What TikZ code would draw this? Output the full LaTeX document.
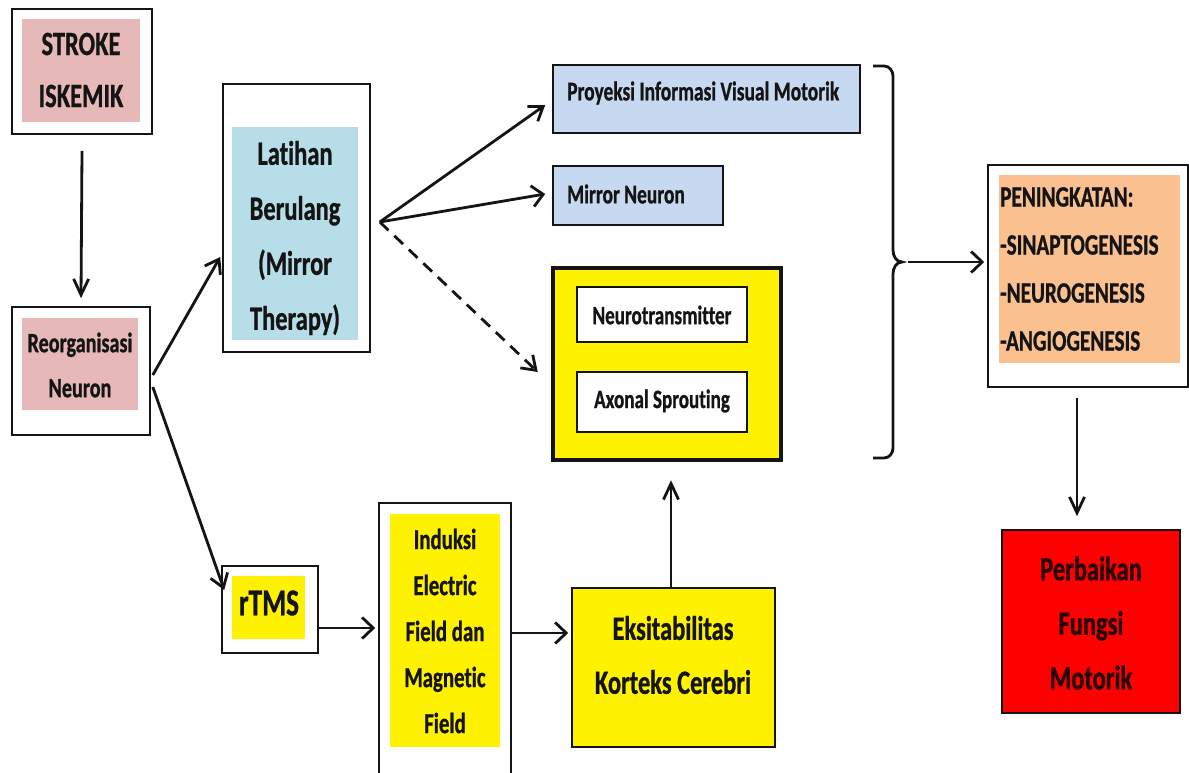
\documentclass[tikz,border=0pt]{standalone}
\usepackage{fontspec}
\setmainfont{Carlito}[FakeStretch=0.72, Ligatures=NoCommon, BoldFeatures={FakeBold=0.8}]
\usetikzlibrary{arrows.meta,fit}

\definecolor{rosefill}{HTML}{E6B9B8}
\definecolor{aquafill}{HTML}{B7DEE8}
\definecolor{bluefill}{HTML}{C6D9F1}
\definecolor{orangefill}{HTML}{FAC090}
\definecolor{alertred}{HTML}{FF0000}
\definecolor{ink}{HTML}{141414}

\tikzset{
  frame/.style={draw=ink, line width=1.6pt, fill=white, inner sep=0pt},
  patch/.style={inner sep=0pt},
  arrV/.style={line width=2.8pt, draw=ink, -{Straight Barb[length=16pt,width=15pt]}},
  arrH/.style={line width=2.8pt, draw=ink, -{Straight Barb[length=11pt,width=21pt]}},
  arrD/.style={line width=2.8pt, draw=ink, -{Straight Barb[length=13pt,width=18pt]}},
}

\begin{document}
\begin{tikzpicture}[x=1pt, y=-1pt]
\useasboundingbox (0,0) rectangle (1189,773);
\fill[white] (0,0) rectangle (1189,773);

% ---- left column
\node[frame, fit={(12,9)(152,134)}] (stroke) {};
\node[patch, fill=rosefill, fit={(22,19)(140,122)}] (strokein) {};
\node[font=\bfseries\fontsize{34}{52}\selectfont, text=ink, align=center, inner sep=0pt] (strokeT) at (81,70) {STROKE\\ISKEMIK};

\node[frame, fit={(12,307)(150,435)}] (reorg) {};
\node[patch, fill=rosefill, fit={(22,318)(138,410)}] (reorgin) {};
\node[font=\bfseries\fontsize{28}{45}\selectfont, text=ink, align=center, inner sep=0pt] (reorgT) at (80,365) {Reorganisasi\\Neuron};

% ---- mirror therapy branch
\node[frame, fit={(223,84)(370,352)}] (latihan) {};
\node[patch, fill=aquafill, fit={(232,127)(358,340)}] (latihanin) {};
\node[font=\bfseries\fontsize{34}{55}\selectfont, text=ink, align=center, inner sep=0pt] (latihanT) at (295,238) {Latihan\\Berulang\\(Mirror\\Therapy)};

\node[frame, fill=bluefill, fit={(553,65)(860,133)}] (proyeksi) {};
\node[font=\bfseries\fontsize{27}{32}\selectfont, text=ink, anchor=west, inner sep=0pt] (proyeksiT) at (567,93) {Proyeksi Informasi Visual Motorik};

\node[frame, fill=bluefill, fit={(553,166)(723,225)}] (mirror) {};
\node[font=\bfseries\fontsize{27}{32}\selectfont, text=ink, anchor=west, inner sep=0pt] (mirrorT) at (567,194) {Mirror Neuron};

\node[draw=ink, line width=4.5pt, fill=yellow, inner sep=0pt, fit={(553,268)(781,460)}] (yb) {};
\node[frame, fit={(577,287)(747,342)}] (neuro) {};
\node[font=\bfseries\fontsize{26.5}{32}\selectfont, text=ink, inner sep=0pt] (neuroT) at (662,315) {Neurotransmitter};
\node[frame, fit={(577,372)(747,432)}] (axon) {};
\node[font=\bfseries\fontsize{26.5}{32}\selectfont, text=ink, inner sep=0pt] (axonT) at (662,401) {Axonal Sprouting};

% ---- rTMS branch
\node[frame, fit={(222,566)(318,653)}] (rtms) {};
\node[patch, fill=yellow, fit={(232,576)(305,639)}] (rtmsin) {};
\node[font=\bfseries\fontsize{38}{45}\selectfont, text=ink, inner sep=0pt] (rtmsT) at (269,603) {rTMS};

\node[frame, fit={(379,503)(511,776)}] (induksi) {};
\node[patch, fill=yellow, fit={(390,514)(500,747)}] (induksiin) {};
\node[font=\bfseries\fontsize{29}{46}\selectfont, text=ink, align=center, inner sep=0pt] (induksiT) at (445,631) {Induksi\\Electric\\Field dan\\Magnetic\\Field};

\node[frame, fill=yellow, fit={(572,588)(775,747)}] (eks) {};
\node[font=\bfseries\fontsize{34}{54}\selectfont, text=ink, align=center, inner sep=0pt] (eksT) at (673,655) {Eksitabilitas\\Korteks Cerebri};

% ---- outcome column
\node[frame, fit={(988,165)(1188,387)}] (pen) {};
\node[patch, fill=orangefill, fit={(999,175)(1180,363)}] (penin) {};
\node[font=\bfseries\fontsize{29.5}{48}\selectfont, text=ink, align=left, anchor=west, inner sep=0pt] (penT) at (1000,269) {PENINGKATAN:\\-SINAPTOGENESIS\\-NEUROGENESIS\\-ANGIOGENESIS};

\node[draw=ink, line width=1.6pt, fill=alertred, inner sep=0pt, fit={(1002,530)(1180,713)}] (perb) {};
\node[font=\bfseries\fontsize{34}{54.5}\selectfont, text=black!85!red, align=center, inner sep=0pt] (perbT) at (1091,623) {Perbaikan\\Fungsi\\Motorik};

% ---- brace gathering the three mechanisms
\draw[draw=ink, line width=2.8pt] (873,66) -- (884,66) to[out=0,in=90] (893,76) -- (893,250)
  to[out=-90,in=180] (902,262) to[out=180,in=90] (893,274) -- (893,448)
  to[out=-90,in=0] (884,458) -- (873,458);
\coordinate (bt) at (902,262);

% ---- connectors
\draw[arrV] ([yshift=-16pt]stroke.south) -- ([yshift=8pt]reorg.north);
\draw[arrD] ([shift={(2pt,-4pt)}]reorg.east) -- ([shift={(-2pt,-39pt)}]latihan.west);
\draw[arrD] ([shift={(2pt,-16pt)}]reorg.east) -- ([shift={(3pt,19.5pt)}]rtms.west);

\coordinate (br) at ([shift={(9pt,-4pt)}]latihan.east);
\draw[arrD] (br) -- ([shift={(-7pt,-6pt)}]proyeksi.west);
\draw[arrH] (br) -- ([shift={(-7pt,1.5pt)}]mirror.west);
\draw[arrD, dash pattern=on 12pt off 8pt] (br) -- ([shift={(-13pt,-8pt)}]yb.west);

\draw[arrH] ([yshift=-18.5pt]rtms.east) -- ([shift={(-3pt,11.5pt)}]induksi.west);
\draw[arrH] ([yshift=6.5pt]induksi.east) -- ([shift={(-3pt,34.5pt)}]eks.west);
\draw[arrV, shorten >=18pt] ([xshift=-2.5pt]eks.north) -- ([xshift=-2.5pt]eks.north |- yb.south);

\draw[arrH] ([xshift=6pt]bt) -- ([shift={(-3pt,14pt)}]pen.west);
\draw[arrV, shorten >=13pt] ([shift={(-11pt,-10pt)}]pen.south) -- ([xshift=-11pt]pen.south |- perb.north);
\end{tikzpicture}
\end{document}
